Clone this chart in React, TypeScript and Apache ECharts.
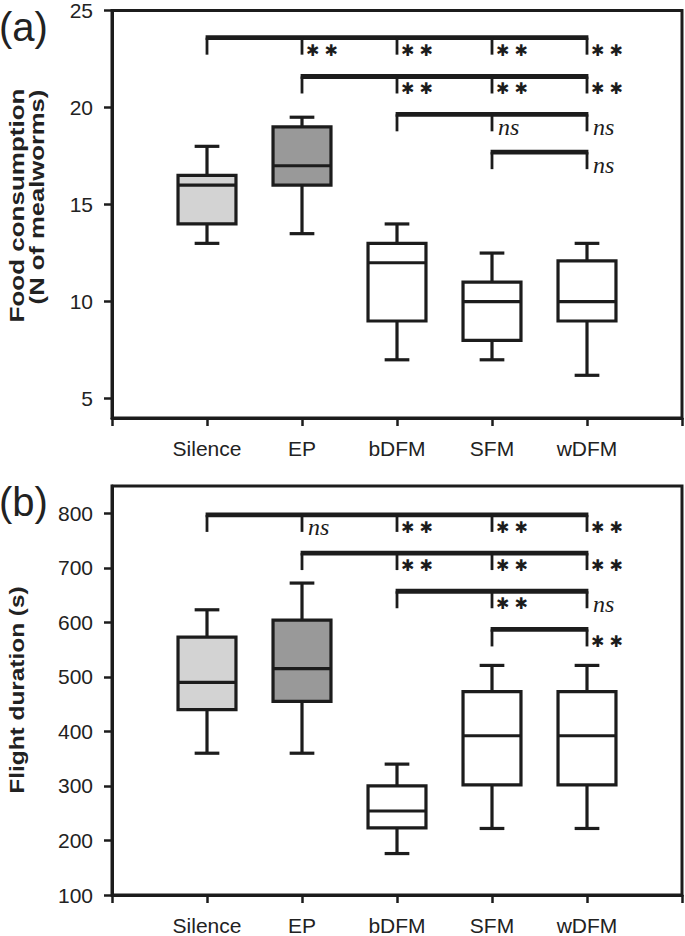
import React, { useEffect, useRef } from 'react';
import * as echarts from 'echarts';

// ---- data ----
const categories = ['Silence', 'EP', 'bDFM', 'SFM', 'wDFM'];
const boxFills = ['#d3d3d3', '#999999', '#ffffff', '#ffffff', '#ffffff'];

// (a) food consumption
const foodLow = [13, 13.5, 7, 7, 6.2];
const foodQ1 = [14, 16, 9, 8, 9];
const foodMedian = [16, 17, 12, 10, 10];
const foodQ3 = [16.5, 19, 13, 11, 12.1];
const foodHigh = [18, 19.5, 14, 12.5, 13];
const foodTicks = [5, 10, 15, 20, 25];

// (b) flight duration
const flightLow = [360, 360, 176, 222, 222];
const flightQ1 = [440, 455, 223, 302, 302];
const flightMedian = [490, 515, 254, 392, 392];
const flightQ3 = [573, 604, 300, 473, 473];
const flightHigh = [623, 672, 340, 521, 521];
const flightTicks = [100, 200, 300, 400, 500, 600, 700, 800];

// significance brackets (all end at wDFM)
const bracketFrom = ['Silence', 'EP', 'bDFM', 'SFM'];
const bracketTo = 'wDFM';
const foodBracketY = [23.6, 21.6, 19.65, 17.7];
const foodBracketMarks = [
  ['**', '**', '**', '**'],
  ['**', '**', '**'],
  ['ns', 'ns'],
  ['ns'],
];
const flightBracketY = [797, 727, 657, 587];
const flightBracketMarks = [
  ['ns', '**', '**', '**'],
  ['**', '**', '**'],
  ['**', 'ns'],
  ['**'],
];

const INK = '#1c1c1c';
const TXT = '#222222';

const pos = (name: string) => categories.indexOf(name) + 1;

function boxData(low: number[], q1: number[], med: number[], q3: number[], high: number[]) {
  return categories.map((c, i) => [pos(c), low[i], q1[i], med[i], q3[i], high[i]]);
}

function bracketData(ys: number[]) {
  return bracketFrom.map((f, i) => [pos(f), pos(bracketTo), ys[i]]);
}

const boxRender = (params: any, api: any) => {
  const idx = api.value(0);
  const low = api.coord([idx, api.value(1)]);
  const q1 = api.coord([idx, api.value(2)]);
  const med = api.coord([idx, api.value(3)]);
  const q3 = api.coord([idx, api.value(4)]);
  const high = api.coord([idx, api.value(5)]);
  const x = low[0];
  const unit = api.size([1, 0])[0];
  const half = unit * 0.305;
  const cap = unit * 0.13;
  const st = { stroke: INK, lineWidth: 3.2, fill: null };
  return {
    type: 'group',
    children: [
      { type: 'line', shape: { x1: x, y1: high[1], x2: x, y2: q3[1] }, style: st },
      { type: 'line', shape: { x1: x, y1: q1[1], x2: x, y2: low[1] }, style: st },
      { type: 'line', shape: { x1: x - cap, y1: high[1], x2: x + cap, y2: high[1] }, style: st },
      { type: 'line', shape: { x1: x - cap, y1: low[1], x2: x + cap, y2: low[1] }, style: st },
      {
        type: 'rect',
        shape: { x: x - half, y: q3[1], width: 2 * half, height: q1[1] - q3[1] },
        style: { fill: boxFills[params.dataIndex], stroke: INK, lineWidth: 3.2 },
      },
      { type: 'line', shape: { x1: x - half, y1: med[1], x2: x + half, y2: med[1] }, style: st },
    ],
  };
};

const bracketRender = (marks: string[][]) => (params: any, api: any) => {
  const from = api.value(0);
  const to = api.value(1);
  const yv = api.value(2);
  const p0 = api.coord([from, yv]);
  const p1 = api.coord([to, yv]);
  const children: any[] = [
    {
      type: 'line',
      shape: { x1: p0[0] - 1.4, y1: p0[1], x2: p1[0] + 1.4, y2: p1[1] },
      style: { stroke: INK, lineWidth: 4.8 },
    },
  ];
  for (let k = from; k <= to; k++) {
    const px = api.coord([k, yv])[0];
    children.push({
      type: 'line',
      shape: { x1: px, y1: p0[1], x2: px, y2: p0[1] + 17 },
      style: { stroke: INK, lineWidth: 2.8 },
    });
    if (k > from) {
      const m = marks[params.dataIndex][k - from - 1];
      const isNs = m === 'ns';
      children.push({
        type: 'text',
        x: px + (isNs ? 6 : 4),
        y: p0[1] + 12.5,
        style: {
          text: isNs ? 'ns' : '\u2731 \u2731',
          fill: INK,
          align: 'left',
          verticalAlign: 'middle',
          fontFamily: isNs ? '"Liberation Serif"' : '"DejaVu Sans"',
          fontStyle: isNs ? 'italic' : 'normal',
          fontSize: isNs ? 24 : 16,
        },
      });
    }
  }
  return { type: 'group', children };
};

function xAxis(gridIndex: number) {
  return {
    type: 'value',
    gridIndex,
    min: 0,
    max: 6,
    interval: 1,
    splitLine: { show: false },
    axisLine: { show: true, lineStyle: { color: INK, width: 3 } },
    axisTick: { show: true, length: 8, lineStyle: { color: INK, width: 2.5 } },
    axisLabel: {
      margin: 20,
      color: TXT,
      fontSize: 21,
      fontFamily: '"Liberation Sans"',
      formatter: (v: number) => categories[v - 1] ?? '',
    },
  };
}

function yAxis(gridIndex: number, min: number, max: number, ticks: number[]) {
  return {
    type: 'value',
    gridIndex,
    min,
    max,
    splitLine: { show: false },
    axisLine: { show: true, lineStyle: { color: INK, width: 3 } },
    axisTick: { show: true, length: 8, customValues: ticks, lineStyle: { color: INK, width: 2.5 } },
    axisLabel: {
      margin: 19,
      color: TXT,
      fontSize: 21,
      fontFamily: '"Liberation Sans"',
      customValues: ticks,
    },
  };
}

const titleFont = { fontFamily: '"Liberation Sans"', fontWeight: 'bold', fontSize: 20, fill: TXT };

export default function App() {
  const ref = useRef<HTMLDivElement>(null);
  useEffect(() => {
    if (!ref.current) return;
    const chart = echarts.init(ref.current, undefined, { renderer: 'svg' });
    chart.setOption({
      animation: false,
      backgroundColor: '#ffffff',
      grid: [
        { left: 112, top: 10, width: 570, height: 408, show: true, borderColor: INK, borderWidth: 3, backgroundColor: 'transparent' },
        { left: 112, top: 486, width: 570, height: 411, show: true, borderColor: INK, borderWidth: 3, backgroundColor: 'transparent' },
      ],
      xAxis: [xAxis(0), xAxis(1)],
      yAxis: [yAxis(0, 4, 25, foodTicks), yAxis(1, 100, 850, flightTicks)],
      series: [
        {
          type: 'custom',
          name: 'Food consumption',
          xAxisIndex: 0,
          yAxisIndex: 0,
          renderItem: boxRender,
          data: boxData(foodLow, foodQ1, foodMedian, foodQ3, foodHigh),
        },
        {
          type: 'custom',
          name: 'Food brackets',
          xAxisIndex: 0,
          yAxisIndex: 0,
          renderItem: bracketRender(foodBracketMarks),
          data: bracketData(foodBracketY),
        },
        {
          type: 'custom',
          name: 'Flight duration',
          xAxisIndex: 1,
          yAxisIndex: 1,
          renderItem: boxRender,
          data: boxData(flightLow, flightQ1, flightMedian, flightQ3, flightHigh),
        },
        {
          type: 'custom',
          name: 'Flight brackets',
          xAxisIndex: 1,
          yAxisIndex: 1,
          renderItem: bracketRender(flightBracketMarks),
          data: bracketData(flightBracketY),
        },
      ],
      graphic: [
        { type: 'text', x: -1, y: 27, style: { text: '(a)', fontFamily: '"Liberation Sans"', fontSize: 40, fill: TXT, align: 'left', verticalAlign: 'middle' } },
        { type: 'text', x: -1, y: 502, style: { text: '(b)', fontFamily: '"Liberation Sans"', fontSize: 40, fill: TXT, align: 'left', verticalAlign: 'middle' } },
        { type: 'text', x: 17.5, y: 205.5, rotation: Math.PI / 2, scaleX: 1.3, style: { text: 'Food consumption', align: 'center', verticalAlign: 'middle', ...titleFont } },
        { type: 'text', x: 37, y: 197, rotation: Math.PI / 2, scaleX: 1.28, style: { text: '(N of mealworms)', align: 'center', verticalAlign: 'middle', ...titleFont } },
        { type: 'text', x: 17.5, y: 690, rotation: Math.PI / 2, scaleX: 1.22, style: { text: 'Flight duration (s)', align: 'center', verticalAlign: 'middle', ...titleFont } },
      ],
    });
    return () => chart.dispose();
  }, []);
  return (
    <div
      ref={ref}
      style={{ position: 'fixed', left: 0, top: 0, width: 685, height: 936, background: '#fff' }}
    />
  );
}
